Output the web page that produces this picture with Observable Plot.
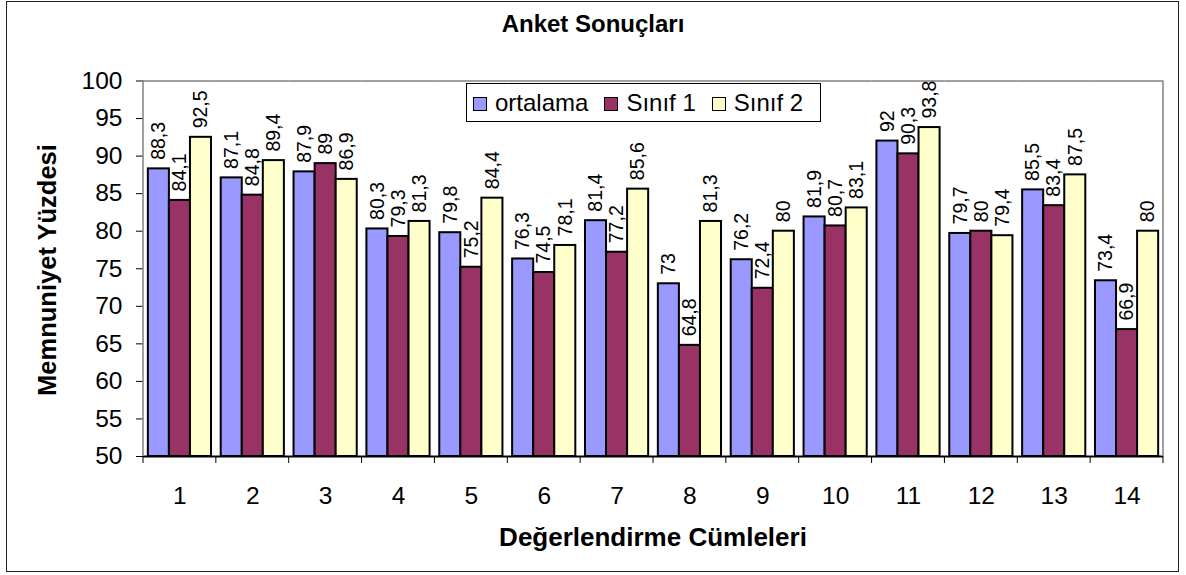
<!DOCTYPE html>
<html>
<head>
<meta charset="utf-8">
<script src="https://cdn.jsdelivr.net/npm/d3@7"></script>
<script src="https://cdn.jsdelivr.net/npm/@observablehq/plot@0.6"></script>
<style>
  body { margin: 0; background: #fff; font-family: "Liberation Sans", Arial, sans-serif; color: #000; }
  #wrap { position: relative; width: 1186px; height: 575px; overflow: hidden; }
  #border { position: absolute; left: 6px; top: 1px; width: 1173px; height: 571px; border: 1px solid #222; box-sizing: border-box; }
  #chart { position: absolute; left: 0; top: 0; }
  .title { position: absolute; left: 0; width: 1186px; top: 12px; text-align: center; font-weight: bold; font-size: 24px; line-height: 24px; white-space: nowrap; }
  .xtitle { position: absolute; left: 143px; width: 1020px; top: 524px; text-align: center; font-weight: bold; font-size: 26px; line-height: 26px; white-space: nowrap; }
  .ytitle { position: absolute; left: 47px; top: 270px; transform: translate(-50%, -50%) rotate(-90deg); font-weight: bold; font-size: 25.5px; line-height: 26px; white-space: nowrap; }
  #legend { position: absolute; left: 466px; top: 83px; height: 39px; border: 1px solid #000; background: #fff; box-sizing: border-box; padding-left: 6px; padding-right: 17px; font-size: 24px; line-height: 37px; white-space: nowrap; }
  #legend .item { display: inline-block; margin-right: 16px; }
  #legend .item:last-child { margin-right: 0; }
  #legend .sw { display: inline-block; width: 12px; height: 12px; border: 1.5px solid #000; margin-right: 8px; vertical-align: baseline; }
</style>
</head>
<body>
<div id="wrap">
  <div id="border"></div>
  <div id="chart"></div>
  <div class="title">Anket Sonuçları</div>
  <div class="ytitle">Memnuniyet Yüzdesi</div>
  <div class="xtitle">Değerlendirme Cümleleri</div>
  <div id="legend"></div>
</div>
<script>
// ---- data ----
const categories = ["1", "2", "3", "4", "5", "6", "7", "8", "9", "10", "11", "12", "13", "14"];
const seriesNames = ["ortalama", "Sınıf 1", "Sınıf 2"];
const ortalama = [88.3, 87.1, 87.9, 80.3, 79.8, 76.3, 81.4, 73, 76.2, 81.9, 92, 79.7, 85.5, 73.4];
const sinif1 = [84.1, 84.8, 89, 79.3, 75.2, 74.5, 77.2, 64.8, 72.4, 80.7, 90.3, 80, 83.4, 66.9];
const sinif2 = [92.5, 89.4, 86.9, 81.3, 84.4, 78.1, 85.6, 81.3, 80, 83.1, 93.8, 79.4, 87.5, 80];
const seriesColors = ["#9999FF", "#993366", "#FFFFCC"];
const yTicks = [50, 55, 60, 65, 70, 75, 80, 85, 90, 95, 100];
const yDomain = [50, 100];

const seriesValues = [ortalama, sinif1, sinif2];
const rows = categories.flatMap((c, i) =>
  seriesNames.map((s, j) => ({ cat: c, series: s, value: seriesValues[j][i] }))
);

const chart = Plot.plot({
  width: 1186,
  height: 575,
  marginLeft: 143,
  marginRight: 23,
  marginTop: 80.5,
  marginBottom: 119,
  style: { fontFamily: '"Liberation Sans", Arial, sans-serif', fontSize: "24.5px", color: "#000", background: "transparent", overflow: "visible" },
  fx: { domain: categories, padding: 0, round: false, label: null, tickSize: 0, tickPadding: 30, axis: "bottom" },
  x: { domain: seriesNames, paddingInner: 0, paddingOuter: 0.23, round: false, axis: null },
  y: { domain: yDomain, ticks: yTicks, tickSize: 7, tickPadding: 14, label: null },
  color: { domain: seriesNames, range: seriesColors },
  marks: [
    Plot.ruleY([yDomain[1]], { stroke: "#808080", strokeWidth: 1.5 }),
    Plot.barY(rows, { fx: "cat", x: "series", y1: yDomain[0], y2: "value", fill: "series", stroke: "#000", strokeWidth: 2 }),
    Plot.text(rows, {
      fx: "cat", x: "series", y: "value",
      text: d => String(d.value).replace(".", ","),
      rotate: -90, textAnchor: "start", lineAnchor: "middle",
      dy: -9, fontSize: 19.5, fill: "#000"
    }),
    Plot.ruleY([yDomain[0]], { stroke: "#000", strokeWidth: 2 })
  ]
});

document.getElementById("chart").appendChild(chart);

// frame sides and group-boundary ticks, positioned with the plot's own scales
const svg = d3.select(chart);
const fx = chart.scale("fx");
const y = chart.scale("y");
const [x0, x1] = fx.range;
const yb = y.apply(yDomain[0]);
const yt = y.apply(yDomain[1]);
const g = svg.append("g");
g.append("line").attr("x1", x0).attr("x2", x0).attr("y1", yt).attr("y2", yb).attr("stroke", "#808080").attr("stroke-width", 1.5);
g.append("line").attr("x1", x1).attr("x2", x1).attr("y1", yt).attr("y2", yb).attr("stroke", "#808080").attr("stroke-width", 1.5);
const bounds = categories.map(c => fx.apply(c)).concat([x1]);
g.selectAll("line.b").data(bounds).join("line").attr("class", "b")
  .attr("x1", d => d).attr("x2", d => d).attr("y1", yb).attr("y2", yb + 7)
  .attr("stroke", "#000").attr("stroke-width", 1);

// legend
const legend = d3.select("#legend");
seriesNames.forEach((s, i) => {
  const item = legend.append("span").attr("class", "item");
  item.append("span").attr("class", "sw").style("background", seriesColors[i]);
  item.append("span").text(s);
});
</script>
</body>
</html>
